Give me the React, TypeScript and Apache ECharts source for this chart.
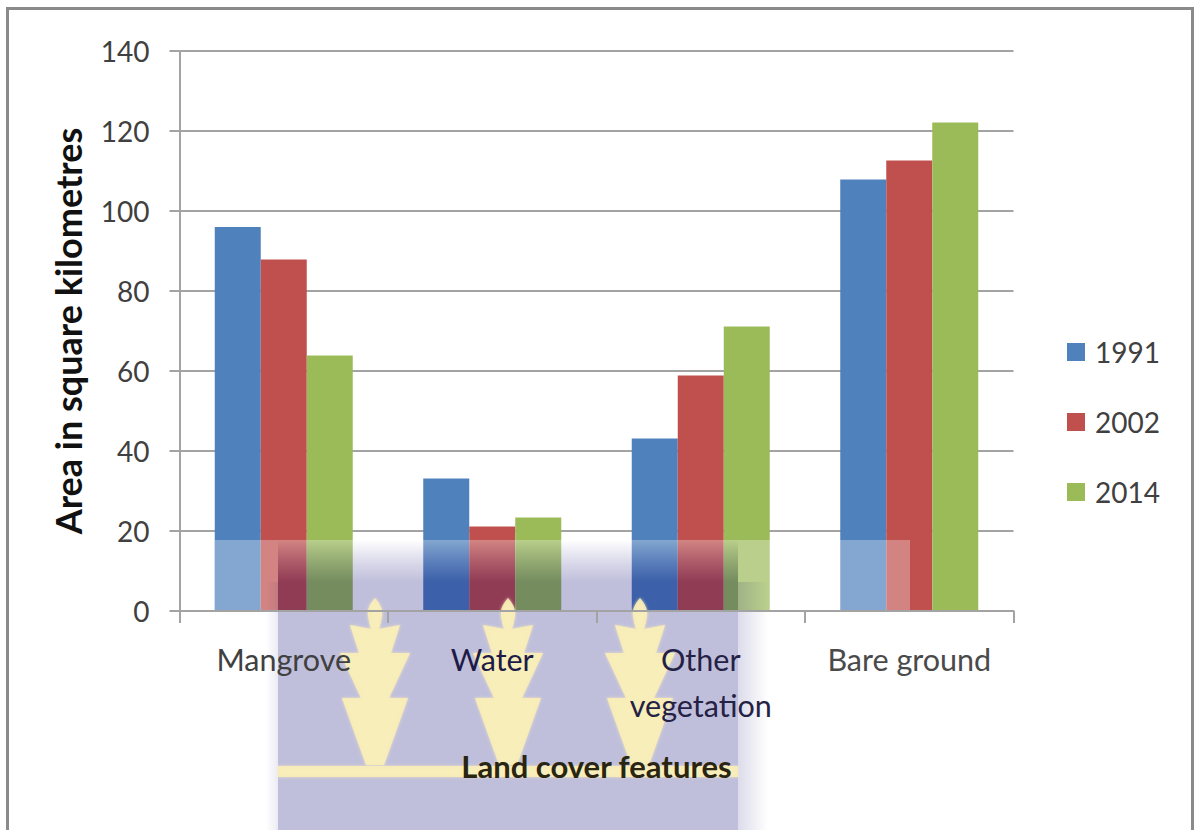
import React, { useEffect, useRef } from "react";
import * as echarts from "echarts";

const landCover = ["Mangrove", "Water", "Other\nvegetation", "Bare ground"];
const area1991 = [96, 33.1, 43.1, 107.9];
const area2002 = [87.9, 21.1, 58.9, 112.6];
const area2014 = [63.9, 23.4, 71.1, 122.1];
const labelColours = ["#404040", "#1d1b48", "#242145", "#4a4a4a"];

const FONT = "Lato, 'Noto Sans', sans-serif";

// Seal emblem: a bud above three stacked tiers, origin at the bud's tip.
const treeOutline =
  "M0 0 C5 6 8 11 7 18 C6 24 5 28 4 31 L25 27 L16 55 L35 55 L14 100 L33 100 L9 167 L-9 167 " +
  "L-33 100 L-14 100 L-35 55 L-16 55 L-25 27 L-4 31 C-5 28 -6 24 -7 18 C-8 11 -5 6 0 0 Z";
echarts.graphic.registerShape("sealTree", echarts.graphic.extendPath(treeOutline, {}));

const navy = (a: number) => `rgba(4,0,112,${a})`;
const white = (a: number) => `rgba(255,255,255,${a})`;
const grad = (x: number, y: number, x2: number, y2: number, from: string, to: string) =>
  new echarts.graphic.LinearGradient(x, y, x2, y2, [
    { offset: 0, color: from },
    { offset: 1, color: to },
  ]);

const CREAM = "rgba(250,238,184,0.9)";
const soft = { shadowColor: CREAM, shadowBlur: 3 };

// Layers of the seal: a pale veil, the tinted panel with its soft edges, then the emblem.
const watermark = [
  { type: "rect", shape: { x: 215, y: 540, width: 278 - 215, height: 290 }, style: { fill: white(0.3) } },
  { type: "rect", shape: { x: 738, y: 540, width: 910 - 738, height: 290 }, style: { fill: white(0.3) } },
  { type: "rect", shape: { x: 278, y: 540, width: 460, height: 42 }, style: { fill: grad(0, 0, 0, 1, white(0.3), navy(0.25)) } },
  { type: "rect", shape: { x: 278, y: 582, width: 460, height: 248 }, style: { fill: navy(0.25) } },
  { type: "rect", shape: { x: 738, y: 582, width: 30, height: 248 }, style: { fill: grad(0, 0, 1, 0, navy(0.14), navy(0)) } },
  { type: "rect", shape: { x: 266, y: 582, width: 12, height: 248 }, style: { fill: grad(0, 0, 1, 0, navy(0), navy(0.08)) } },
  { type: "rect", shape: { x: 278, y: 766, width: 460, height: 11 }, style: { fill: CREAM, ...soft } },
  { type: "sealTree", x: 375, y: 598, style: { fill: CREAM, ...soft } },
  { type: "sealTree", x: 508, y: 598, style: { fill: CREAM, ...soft } },
  { type: "sealTree", x: 640, y: 598, style: { fill: CREAM, ...soft } },
].map((el) => ({ ...el, z: 10 }));

const frame = {
  type: "rect",
  shape: { x: 7.5, y: 8.5, width: 1185, height: 840 },
  style: { fill: "none", stroke: "#8a8a8a", lineWidth: 3 },
};

export default function App() {
  const ref = useRef<HTMLDivElement>(null);

  useEffect(() => {
    document.body.style.margin = "0";
    const chart = echarts.init(ref.current!, null, { renderer: "svg" });
    const axisStroke = { color: "#a3a3a3", width: 2 };
    const bar = (name: string, data: number[], color: string) => ({
      name,
      type: "bar",
      data,
      barWidth: 46,
      barGap: 0,
      itemStyle: { color },
    });
    chart.setOption({
      animation: false,
      backgroundColor: "#fff",
      textStyle: { fontFamily: FONT },
      grid: { left: 179.5, right: 184.5, top: 51, bottom: 219, containLabel: false },
      legend: {
        orient: "vertical",
        left: 1062,
        top: 333,
        itemWidth: 18,
        itemHeight: 18,
        itemGap: 42,
        icon: "rect",
        data: ["1991", "2002", "2014"],
        textStyle: { fontFamily: FONT, fontSize: 28, color: "#404040", padding: [0, 0, 0, 5] },
      },
      xAxis: {
        type: "category",
        z: 20,
        data: landCover,
        name: "Land cover features",
        nameLocation: "middle",
        nameGap: 139,
        nameTextStyle: { fontFamily: FONT, fontSize: 31, fontWeight: "bold", color: "#2a2510" },
        axisLine: { lineStyle: axisStroke },
        axisTick: { show: true, length: 12, lineStyle: axisStroke },
        axisLabel: {
          fontFamily: FONT,
          fontSize: 30.5,
          lineHeight: 46,
          margin: 25,
          interval: 0,
          color: (_v: string, i: number) => labelColours[i],
        },
      },
      yAxis: {
        type: "value",
        min: 0,
        max: 140,
        interval: 20,
        name: "Area in square kilometres",
        nameLocation: "middle",
        nameGap: 94,
        nameTextStyle: { fontFamily: FONT, fontSize: 36, fontWeight: "bold", color: "#111" },
        axisLine: { show: true, lineStyle: axisStroke },
        axisTick: { show: true, length: 10, lineStyle: axisStroke },
        axisLabel: { fontFamily: FONT, fontSize: 28, margin: 30, color: "#404040" },
        splitLine: { show: true, lineStyle: axisStroke },
      },
      series: [
        bar("1991", area1991, "#4f81bd"),
        bar("2002", area2002, "#c0504d"),
        bar("2014", area2014, "#9bbb59"),
      ],
      graphic: { elements: [frame, ...watermark] },
    });
    return () => chart.dispose();
  }, []);

  return <div ref={ref} style={{ width: 1198, height: 830 }} />;
}
